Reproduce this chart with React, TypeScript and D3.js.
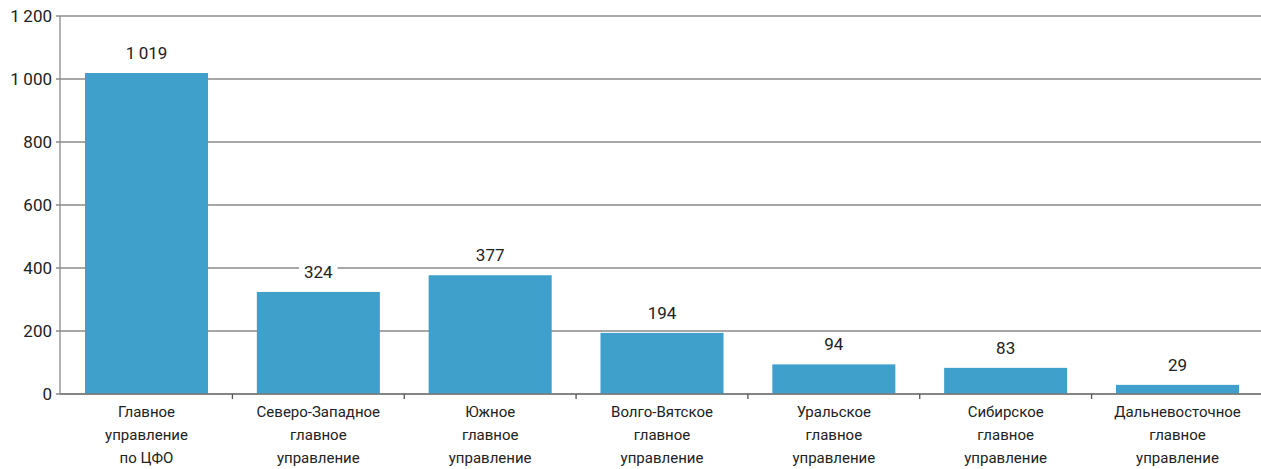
import React from 'react';
import * as d3 from 'd3';

const categories = [
  ['Главное', 'управление', 'по ЦФО'],
  ['Северо-Западное', 'главное', 'управление'],
  ['Южное', 'главное', 'управление'],
  ['Волго-Вятское', 'главное', 'управление'],
  ['Уральское', 'главное', 'управление'],
  ['Сибирское', 'главное', 'управление'],
  ['Дальневосточное', 'главное', 'управление'],
];
const values = [1019, 324, 377, 194, 94, 83, 29];
const yTicks = [0, 200, 400, 600, 800, 1000, 1200];

const W = 1261;
const H = 469;
const margin = { top: 16, right: 1, bottom: 75, left: 60 };

const fmt = (v: number) => {
  const s = String(v);
  return s.length > 3 ? s.slice(0, -3) + '\u2009' + s.slice(-3) : s;
};

const App: React.FC = () => {
  const innerH = H - margin.top - margin.bottom;
  const idx = values.map((_, i) => String(i));
  const x = d3
    .scaleBand<string>()
    .domain(idx)
    .range([margin.left + 0.6, W + 2.4])
    .paddingInner(0.284)
    .paddingOuter(0.142);
  const y = d3.scaleLinear().domain([0, 1200]).range([margin.top + innerH, margin.top]);
  const step = x.step();
  const x0 = margin.left + 0.6;
  const font = 'Roboto, "Open Sans", sans-serif';

  return (
    <svg
      width={W}
      height={H}
      style={{ position: 'absolute', left: 0, top: 0, background: '#fff' }}
      fontFamily={font}
    >
      {yTicks.map(t => (
        <g key={t}>
          <line x1={margin.left - 4} x2={W} y1={y(t)} y2={y(t)} stroke="#8a8a8a" strokeWidth={1.3} />
          <text x={margin.left - 8} y={y(t)} dy="0.35em" textAnchor="end" fontSize={17} fill="#222">
            {fmt(t)}
          </text>
        </g>
      ))}
      {values.map((v, i) => {
        const bx = x(String(i))!;
        return (
          <rect key={i} x={bx} y={y(v)} width={x.bandwidth()} height={y(0) - y(v)} fill="#3fa0cc" />
        );
      })}
      <line x1={margin.left} x2={margin.left} y1={y(1200)} y2={y(0)} stroke="#8a8a8a" strokeWidth={1.3} />
      <line x1={margin.left} x2={W} y1={y(0)} y2={y(0)} stroke="#7a7a7a" strokeWidth={1.5} />
      {values.map((_, i) =>
        i === 0 ? null : (
          <line
            key={i}
            x1={x0 + step * i}
            x2={x0 + step * i}
            y1={y(0)}
            y2={y(0) + 5}
            stroke="#555"
            strokeWidth={1.3}
          />
        )
      )}
      {values.map((v, i) => {
        const cx = x(String(i))! + x.bandwidth() / 2;
        const ty = y(v) - 20;
        const label = fmt(v);
        const w = label.length * 9.5 + 10;
        return (
          <g key={i}>
            <rect x={cx - w / 2} y={ty - 11} width={w} height={22} fill="#fff" />
            <text x={cx} y={ty} dy="0.35em" textAnchor="middle" fontSize={17} fill="#222">
              {label}
            </text>
          </g>
        );
      })}
      {categories.map((lines, i) => {
        const cx = x(String(i))! + x.bandwidth() / 2;
        return (
          <text key={i} textAnchor="middle" fontSize={15} fill="#222">
            {lines.map((l, j) => (
              <tspan key={j} x={cx} y={y(0) + 18 + j * 23} dy="0.35em">
                {l}
              </tspan>
            ))}
          </text>
        );
      })}
    </svg>
  );
};

export default App;
